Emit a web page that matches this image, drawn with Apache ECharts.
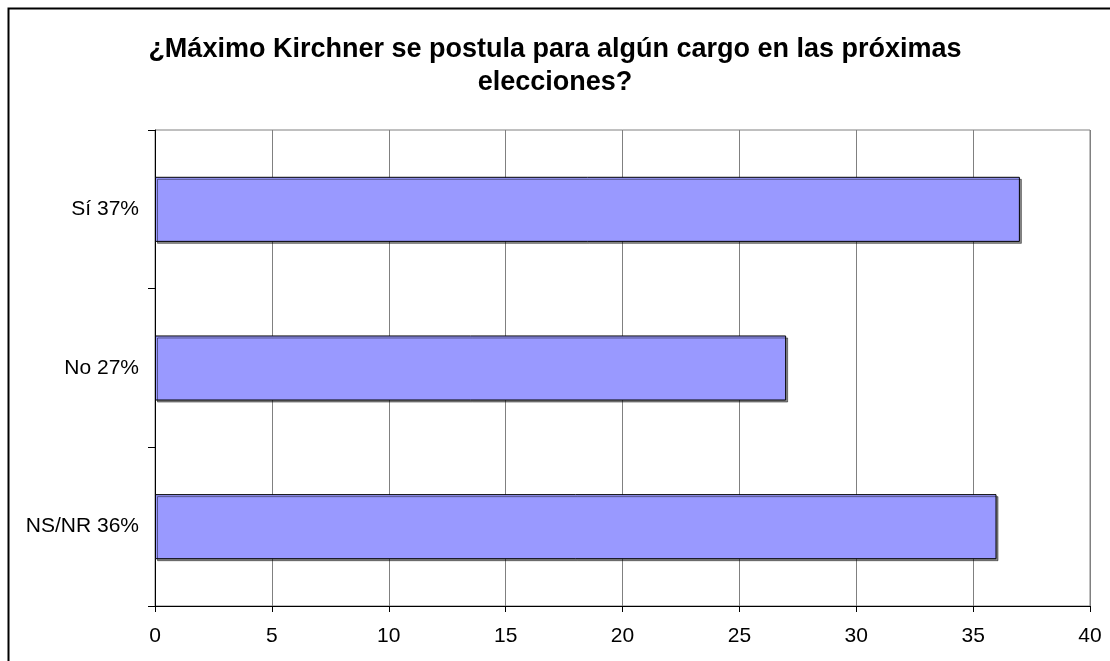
<!DOCTYPE html>
<html><head><meta charset="utf-8">
<script src="https://cdn.jsdelivr.net/npm/echarts@6/dist/echarts.min.js"></script>
<style>html,body{margin:0;padding:0;background:#fff}#c{width:1110px;height:661px}</style>
</head><body><div id="c"></div>
<script>
const categories = ['Sí 37%', 'No 27%', 'NS/NR 36%'];
const values = [37, 27, 36];
const xTicks = [0, 5, 10, 15, 20, 25, 30, 35, 40];
const titleText = '¿Máximo Kirchner se postula para algún cargo en las próximas\nelecciones?';

const chart = echarts.init(document.getElementById('c'));
chart.setOption({
  animation: false,
  backgroundColor: '#fff',
  graphic: [{
    type: 'rect', left: 6, top: 6,
    shape: { width: 1200, height: 700 },
    style: { fill: 'none', stroke: '#000', lineWidth: 2 }, z: 100
  }],
  title: {
    text: titleText, left: 'center', top: 28,
    textStyle: { fontFamily: 'Liberation Sans, Arial', fontSize: 27, fontWeight: 'bold', color: '#000', lineHeight: 33 }
  },
  grid: { left: 155, right: 20, top: 130, bottom: 55, show: true, borderColor: '#808080', borderWidth: 1 },
  xAxis: {
    type: 'value', min: xTicks[0], max: xTicks[xTicks.length - 1], interval: 5,
    axisLine: { show: true, lineStyle: { color: '#000', width: 1 } },
    axisTick: { show: true, length: 6, lineStyle: { color: '#000' } },
    axisLabel: { fontFamily: 'Liberation Sans, Arial', fontSize: 21, color: '#000', margin: 20 },
    splitLine: { show: true, lineStyle: { color: '#808080', width: 1 } }
  },
  yAxis: {
    type: 'category', data: categories, inverse: true,
    axisLine: { show: true, lineStyle: { color: '#000', width: 1 } },
    axisTick: { show: true, length: 7, lineStyle: { color: '#000' } },
    axisLabel: { fontFamily: 'Liberation Sans, Arial', fontSize: 21, color: '#000', margin: 16 },
    splitLine: { show: false }
  },
  series: [{
    type: 'bar', data: values, barWidth: '41%',
    itemStyle: { color: '#9999FF', borderColor: '#000', borderWidth: 1,
      shadowColor: 'rgba(0,0,0,0.45)', shadowOffsetX: 2, shadowOffsetY: 2, shadowBlur: 0 }
  }]
});
</script></body></html>
